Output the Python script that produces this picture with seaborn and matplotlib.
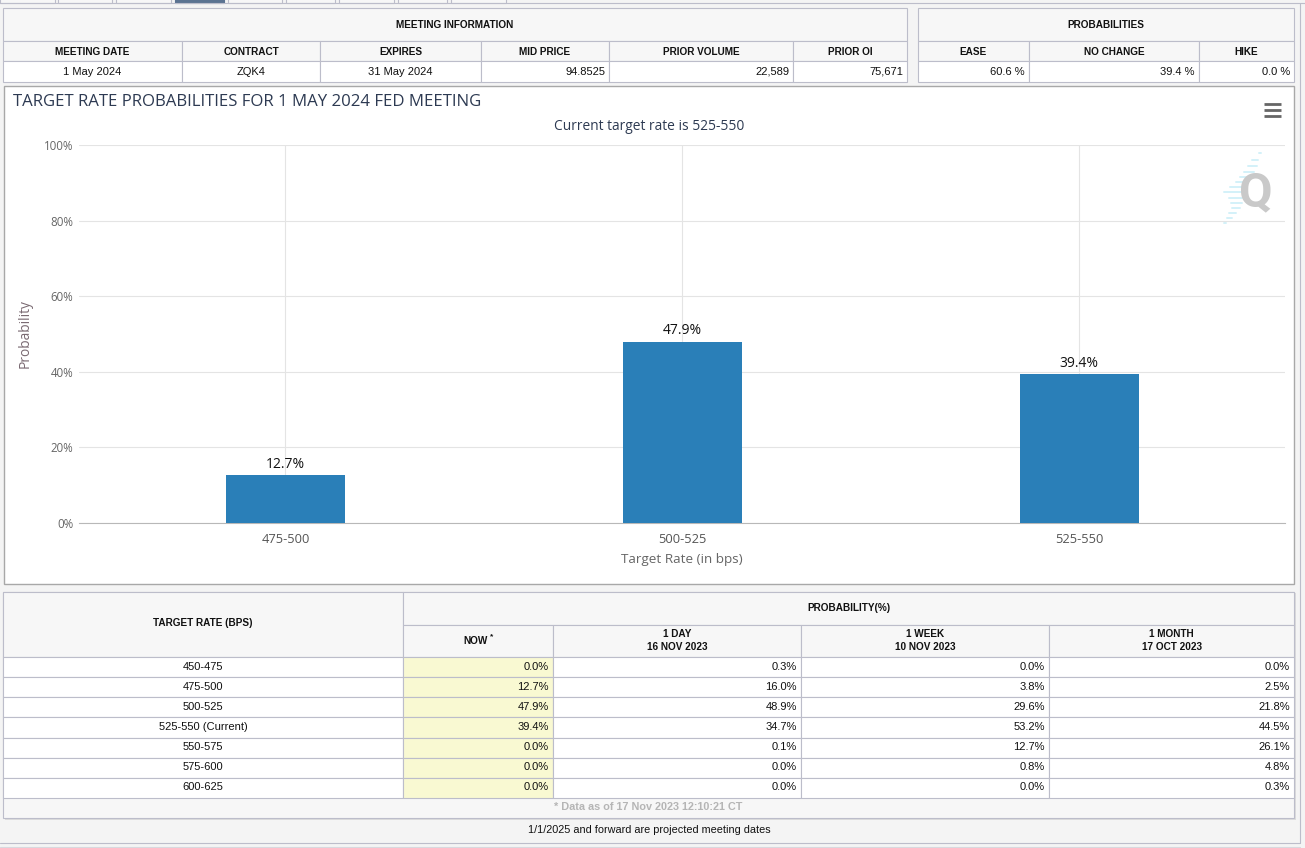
import matplotlib
matplotlib.use("Agg")
import matplotlib.pyplot as plt
import pandas as pd
import seaborn as sns
from matplotlib.patches import Rectangle

# chart data
chart_rates = ["475-500", "500-525", "525-550"]
chart_probs = [12.7, 47.9, 39.4]
y_ticks = [0, 20, 40, 60, 80, 100]

# top tables
info_headers = ["MEETING DATE", "CONTRACT", "EXPIRES", "MID PRICE", "PRIOR VOLUME", "PRIOR OI"]
info_values = ["1 May 2024", "ZQK4", "31 May 2024", "94.8525", "22,589", "75,671"]
prob_headers = ["EASE", "NO CHANGE", "HIKE"]
prob_values = ["60.6 %", "39.4 %", "0.0 %"]

# bottom table
table_rates = ["450-475", "475-500", "500-525", "525-550 (Current)", "550-575", "575-600", "600-625"]
now_vals = ["0.0%", "12.7%", "47.9%", "39.4%", "0.0%", "0.0%", "0.0%"]
day_vals = ["0.3%", "16.0%", "48.9%", "34.7%", "0.1%", "0.0%", "0.0%"]
week_vals = ["0.0%", "3.8%", "29.6%", "53.2%", "12.7%", "0.8%", "0.0%"]
month_vals = ["0.0%", "2.5%", "21.8%", "44.5%", "26.1%", "4.8%", "0.3%"]

W, H = 1305, 848
BORDER = "#bcbdca"
HEAD_BG = "#f7f7f7"
TABLE_FONT = "Liberation Sans"
CHART_FONT = "Open Sans"

sns.set_theme(style="white")
plt.rcParams["font.family"] = [TABLE_FONT, "DejaVu Sans"]

fig = plt.figure(figsize=(W / 100, H / 100), dpi=100, facecolor="#f4f4f4")

# page layer in pixel coordinates for the table frames
page = fig.add_axes([0, 0, 1, 1], zorder=0)
page.set_xlim(0, W)
page.set_ylim(H, 0)
page.axis("off")


def box(x0, y0, x1, y1, fc="white", ec=BORDER, lw=0.8, z=1):
    page.add_patch(Rectangle((x0, y0), x1 - x0, y1 - y0, fc=fc, ec=ec, lw=lw, zorder=z))


def cell(x0, x1, y, s, align="center", bold=False, color="#111111", size=8.0):
    if align == "center":
        xt, ha = (x0 + x1) / 2, "center"
    else:
        xt, ha = x1 - 4, "right"
    page.text(xt, y, s, ha=ha, va="center", fontsize=size, color=color,
              fontweight="bold" if bold else "normal", family=TABLE_FONT, zorder=5)


# tabs strip at the very top
tab_edges = [(0, 55), (58, 112), (116, 171), (228, 282), (286, 335), (339, 394), (398, 447), (451, 506)]
for a, b in tab_edges:
    box(a, -3, b, 2.5, fc="#f7f7f7")
box(175, -3, 224, 2.5, fc="#5b7391", ec="#5b7391")
page.plot([0, W], [2.5, 2.5], color=BORDER, lw=0.8, zorder=1)

# page frame
page.plot([1300, 1300], [2.5, 843], color=BORDER, lw=0.8, zorder=1)
page.plot([0, 1300], [843, 843], color=BORDER, lw=0.8, zorder=1)
page.plot([0, 1300], [846.5, 846.5], color="#d8d8de", lw=0.8, zorder=1)

# top tables
y_top = [8, 41, 61, 82]
info_cols = [3, 182, 320, 481, 609, 793, 907]
prob_cols = [918, 1029, 1199, 1294]
for cols, heads, vals, title in [
    (info_cols, info_headers, info_values, "MEETING INFORMATION"),
    (prob_cols, prob_headers, prob_values, "PROBABILITIES"),
]:
    box(cols[0], y_top[0], cols[-1], y_top[1], fc=HEAD_BG)
    cell(cols[0], cols[-1], 25, title, bold=True, size=7.2)
    for i, (h, v) in enumerate(zip(heads, vals)):
        box(cols[i], y_top[1], cols[i + 1], y_top[2], fc=HEAD_BG)
        box(cols[i], y_top[2], cols[i + 1], y_top[3])
        cell(cols[i], cols[i + 1], 52, h, bold=True, size=7.2)
        right = cols is prob_cols or i >= 3
        cell(cols[i], cols[i + 1], 72, v, align="right" if right else "center")

# chart frame
box(3.5, 85.5, 1294, 583.5, ec="#a8a8a8", lw=1.0)
page.text(13, 102.5, "TARGET RATE PROBABILITIES FOR 1 MAY 2024 FED MEETING", ha="left", va="center",
          fontsize=12.1, color="#2d3a52", family=CHART_FONT, zorder=5)
page.text(649.5, 126.5, "Current target rate is 525-550", ha="center", va="center",
          fontsize=9.9, color="#2d3a52", family=CHART_FONT, zorder=5)

# menu icon
for yy in (104, 110, 115.5):
    page.plot([1264, 1281], [yy, yy], color="#666666", lw=2.0, solid_capstyle="butt", zorder=5)

# watermark
for yy, xa, xb in [(153, 1259, 1261), (160, 1252, 1258), (166, 1248, 1257), (172, 1244, 1254),
                   (177, 1240, 1250), (182, 1236, 1244), (187, 1230, 1244), (192, 1224, 1242),
                   (198, 1229, 1242), (203, 1231, 1242), (208, 1232, 1240), (213, 1229, 1236),
                   (218, 1227, 1232), (223, 1224, 1226)]:
    page.plot([xa, xb], [yy, yy], color="#d3f1f9", lw=1.4, zorder=5)
page.text(1256, 193, "Q", ha="center", va="center", fontsize=35, fontweight="bold",
          color="#c9c9c9", family="Roboto", zorder=6)

# bar chart
df = pd.DataFrame({"rate": chart_rates, "prob": chart_probs})
ax = fig.add_axes([79 / W, 1 - 523 / H, (1285 - 79) / W, (523 - 145) / H], zorder=2)
ax.patch.set_alpha(0)
sns.barplot(data=df, x="rate", y="prob", color="#2a7fb8", saturation=1, width=0.301, linewidth=0, ax=ax, zorder=3)
ax.set_xlim(-0.52, 2.518)
ax.set_ylim(0, 100)
ax.set_yticks(y_ticks)
ax.set_yticklabels([f"{t}%" for t in y_ticks], fontsize=8.3, color="#666666", family=CHART_FONT)
ax.set_xticks(range(len(chart_rates)))
ax.set_xticklabels(chart_rates, fontsize=9.3, color="#555555", family=CHART_FONT)
ax.grid(True, color="#e4e4e4", lw=0.8, zorder=0)
ax.set_axisbelow(True)
for side in ("top", "right", "left"):
    ax.spines[side].set_visible(False)
ax.spines["bottom"].set_color("#b8b8b8")
ax.spines["bottom"].set_linewidth(0.8)
ax.tick_params(axis="y", length=0, pad=4)
ax.tick_params(axis="x", length=0, pad=7)
ax.set_ylabel("Probability", fontsize=9.9, color="#7a6a72", family=CHART_FONT, labelpad=8)
ax.set_xlabel("Target Rate (in bps)", fontsize=9.7, color="#666666", family=CHART_FONT, labelpad=5)
ax.bar_label(ax.containers[0], labels=[f"{v}%" for v in chart_probs], padding=2.5,
             fontsize=10, color="#111111", family=CHART_FONT)

# bottom table
low_cols = [3, 403, 553, 801, 1049, 1294]
low_rows = [656.5, 676.5, 697, 717, 737.5, 757.5, 777.5, 797.5]

page.add_patch(Rectangle((5, 592.5), 1291, 227, fc="#dcdcdc", ec="none", zorder=0.5))
box(low_cols[0], 591.5, low_cols[-1], 817.5, fc=HEAD_BG)
box(low_cols[0], 591.5, low_cols[1], low_rows[0], fc=HEAD_BG)
box(low_cols[1], 591.5, low_cols[-1], 624.5, fc=HEAD_BG)
cell(low_cols[0], low_cols[1], 623.5, "TARGET RATE (BPS)", bold=True, size=7.2)
cell(low_cols[1], low_cols[-1], 608, "PROBABILITY(%)", bold=True, size=7.2)

box(low_cols[1], 624.5, low_cols[2], low_rows[0], fc=HEAD_BG)
page.text(476, 641, "NOW", ha="center", va="center", fontsize=7.2, fontweight="bold", color="#111111", zorder=5)
page.text(491.5, 637, "*", ha="center", va="center", fontsize=6, fontweight="bold", color="#111111", zorder=5)
col_heads = ["1 DAY\n16 NOV 2023", "1 WEEK\n10 NOV 2023", "1 MONTH\n17 OCT 2023"]
for i, h in enumerate(col_heads):
    box(low_cols[i + 2], 624.5, low_cols[i + 3], low_rows[0], fc=HEAD_BG)
    top, bottom = h.split("\n")
    cell(low_cols[i + 2], low_cols[i + 3], 634, top, bold=True, size=7.2)
    cell(low_cols[i + 2], low_cols[i + 3], 647, bottom, bold=True, size=7.2)

for r, rate in enumerate(table_rates):
    y0, y1 = low_rows[r], low_rows[r + 1]
    ym = (y0 + y1) / 2
    box(low_cols[0], y0, low_cols[1], y1)
    cell(low_cols[0], low_cols[1], ym, rate)
    columns = [now_vals, day_vals, week_vals, month_vals]
    for c, vals in enumerate(columns):
        box(low_cols[c + 1], y0, low_cols[c + 2], y1, fc="#f9f9d2" if c == 0 else "white")
        cell(low_cols[c + 1], low_cols[c + 2], ym, vals[r], align="right")

cell(low_cols[0], low_cols[-1], 807.5, "* Data as of 17 Nov 2023 12:10:21 CT", bold=True, color="#b5b5b5", size=7.8)
page.text(649.5, 830, "1/1/2025 and forward are projected meeting dates", ha="center", va="center",
          fontsize=7.85, color="#111111", family=TABLE_FONT, zorder=5)

fig.savefig("out.png", dpi=100, facecolor=fig.get_facecolor())
